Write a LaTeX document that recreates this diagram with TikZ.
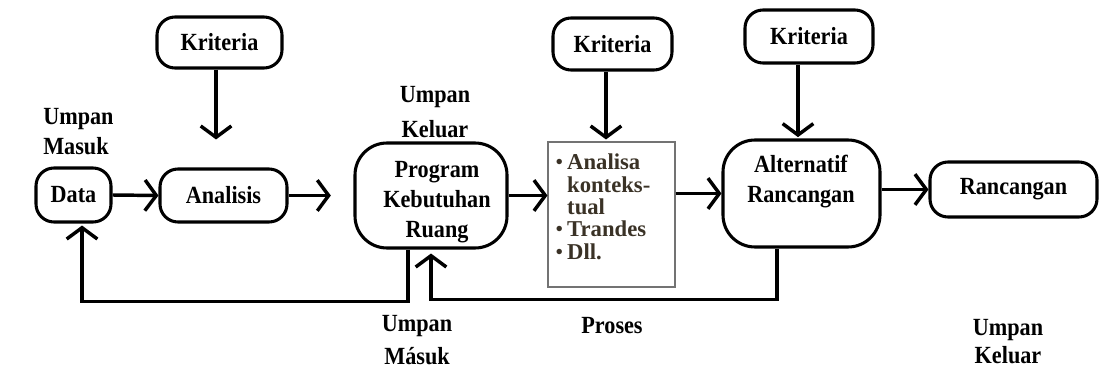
\documentclass[tikz,border=0pt]{standalone}
\usepackage{fontspec}
\setmainfont{Liberation Serif}
\newfontfamily\scanfont{Liberation Serif}[FakeStretch=0.9]
\usetikzlibrary{arrows.meta}
\definecolor{ctxcol}{HTML}{3A3226}
\tikzset{
  arr/.style={line width=2.6pt, -{Straight Barb[length=8.5pt,width=23pt]}},
  pill/.style={draw, line width=2.3pt, rounded corners=13.5pt, inner sep=0pt,
    font=\scanfont\bfseries\fontsize{18.5}{20}\selectfont},
  bigpill/.style={draw, line width=2.3pt, rounded corners=24pt, inner sep=0pt},
  ctxbox/.style={draw=black!55, line width=0.8pt, inner sep=0pt},
  lbl/.style={inner sep=0pt, font=\scanfont\bfseries\fontsize{18.5}{20}\selectfont},
}
\newcommand{\lines}[3]{{\fontsize{18.5}{#1}\selectfont\begin{tabular}[t]{@{}#2@{}}#3\end{tabular}}}
\begin{document}
\begin{tikzpicture}[x=0.75pt,y=-0.75pt]
\useasboundingbox (0,0) rectangle (1099,374);
% boxes
\node[pill, minimum width=56.25pt, minimum height=40.5pt] (data) at (73.5,195) {Data};
\node[pill, minimum width=95.25pt, minimum height=39.75pt] (anal) at (223.5,195.5) {Analisis};
\node[pill, minimum width=93.75pt, minimum height=38.25pt] (k1) at (219.5,42.5) {Kriteria};
\node[pill, minimum width=89.25pt, minimum height=39pt] (k2) at (612.5,44) {Kriteria};
\node[pill, minimum width=96pt, minimum height=39.75pt] (k3) at (809,36.5) {Kriteria};
\node[bigpill, minimum width=114pt, minimum height=78.75pt] (prog) at (431,195.5) {};
\node[ctxbox, minimum width=95.25pt, minimum height=108.75pt] (ctx) at (611.5,214.5) {};
\node[bigpill, minimum width=117.75pt, minimum height=80.25pt] (alt) at (801.5,193.5) {};
\node[pill, minimum width=125.25pt, minimum height=41.25pt] (ranc) at (1013.5,189.5) {Rancangan};
% texts inside big boxes
\node[lbl, anchor=base] (progt) at (437,177) {\lines{22.5pt}{c}{Program\\Kebutuhan\\Ruang}};
\node[lbl, anchor=base] (altt) at (801,172) {\lines{23.25pt}{c}{Alternatif\\Rancangan}};
\node[inner sep=0pt, anchor=base west, text=ctxcol] (ctxt) at (555,170)
  {\fontsize{17}{16.5pt}\selectfont\begin{tabular}[t]{@{}l@{\hspace{3pt}}l@{}}
   {\mdseries\textbullet} & \textbf{Analisa}\\
   & \textbf{konteks-}\\
   & \textbf{tual}\\
   {\mdseries\textbullet} & \textbf{Trandes}\\
   {\mdseries\textbullet} & \textbf{Dll.}
   \end{tabular}};
% labels
\node[lbl, anchor=base west] (um1) at (43,125) {\lines{22.5pt}{l}{Umpan\\Masuk}};
\node[lbl, anchor=base] (uk1) at (435,103) {\lines{26pt}{c}{Umpan\\Keluar}};
\node[lbl, anchor=base] (um2) at (417,331) {\lines{24.75pt}{c}{Umpan\\Másuk}};
\node[lbl, anchor=base] (pros) at (612,333) {Proses};
\node[lbl, anchor=base] (uk2) at (1008,335) {\lines{21pt}{c}{Umpan\\Keluar}};
% main flow
\draw[arr] (data.east) -- (anal.west);
\draw[arr, shorten >=17pt] (anal.east) -- (anal.east -| prog.west);
\draw[arr] (prog.east) -- (prog.east -| ctx.west);
\draw[arr] (ctx.east |- alt.west) -- (alt.west);
\draw[arr] (alt.east |- ranc.west) -- (ranc.west);
% criteria
\draw[arr, shorten >=21pt] ([xshift=-2.6pt]k1.south) -- ([xshift=-2.6pt]k1.south |- anal.north);
\draw[arr, shorten >=1.5pt] ([xshift=-4.9pt]k2.south) -- ([xshift=-4.9pt]k2.south |- ctx.north);
\draw[arr, shorten >=1pt] ([xshift=-8.25pt]k3.south) -- ([xshift=-8.25pt]k3.south |- alt.north);
% feedback
\draw[arr, shorten >=1.5pt] ([xshift=-17.25pt]prog.south) -- ++(0,52) -| ([xshift=6.4pt]data.south);
\draw[arr, shorten >=3pt] ([xshift=-18.4pt]alt.south) -- ++(0,51) -| (prog.south);
\end{tikzpicture}
\end{document}
